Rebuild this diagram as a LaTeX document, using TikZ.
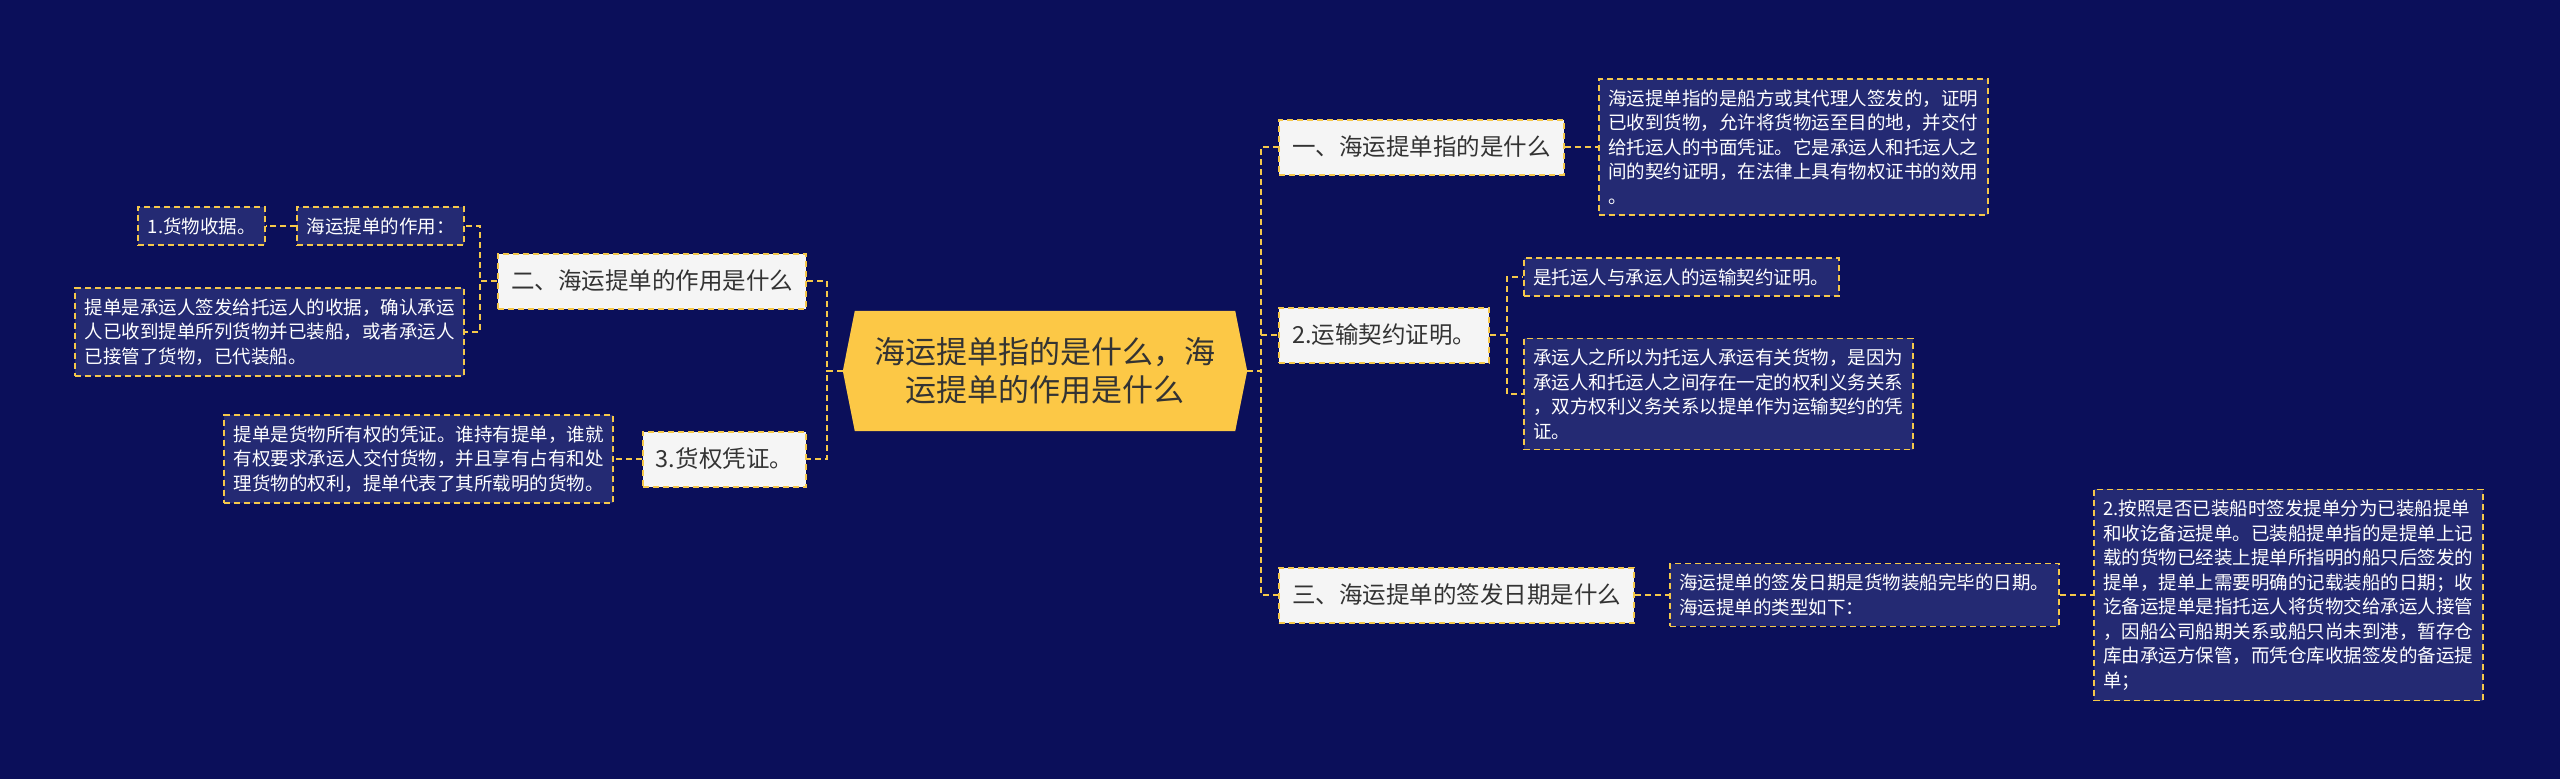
\documentclass[tikz,border=0pt]{standalone}
\usepackage{fontspec}
\setmainfont{Noto Sans CJK SC}
\definecolor{navybg}{HTML}{0B0F5A}
\definecolor{notefill}{HTML}{242A73}
\definecolor{gold}{HTML}{F5C84A}
\definecolor{hubfill}{HTML}{FCC846}
\definecolor{topicfill}{HTML}{F5F5F5}
\definecolor{inkdark}{HTML}{333333}
\pgfdeclarelayer{bg}
\pgfsetlayers{bg,main}
\tikzset{
  link/.style={draw=gold,line width=2pt,dash pattern=on 6pt off 4pt},
  topic/.style={draw=gold,fill=topicfill,line width=2pt,dash pattern=on 6pt off 4pt,
    text=inkdark,font=\fontsize{23.5}{28}\selectfont,minimum height=55pt,inner xsep=13pt,inner ysep=0pt},
  note/.style={draw=gold,fill=notefill,line width=1.6pt,dash pattern=on 6pt off 4pt,
    text=white,font=\fontsize{18.5}{24.5}\selectfont,align=left,inner xsep=9.5pt,inner ysep=10.5pt}
}
\begin{document}
\begin{tikzpicture}[x=1pt,y=-1pt]
  \useasboundingbox (0,0) rectangle (2560,779);
  % centre
  \node[text=inkdark,font=\fontsize{31}{38}\selectfont,align=center,minimum width=380pt,minimum height=120pt,inner sep=0pt]
    (hub) at (1045,371) {海运提单指的是什么，海\\运提单的作用是什么};
  \coordinate (hubR) at ([xshift=12pt]hub.east);
  \coordinate (hubL) at ([xshift=-12pt]hub.west);
  % right branches
  \node[topic,anchor=west] (t1) at (1278,147) {一、海运提单指的是什么};
  \node[topic,anchor=west] (t2) at (1278,335) {2.运输契约证明。};
  \node[topic,anchor=west] (t3) at (1278,595) {三、海运提单的签发日期是什么};
  \node[note,anchor=west] (n1) at (1598,147) {海运提单指的是船方或其代理人签发的，证明\\已收到货物，允许将货物运至目的地，并交付\\给托运人的书面凭证。它是承运人和托运人之\\间的契约证明，在法律上具有物权证书的效用\\。};
  \node[note,anchor=west] (n2a) at (1523,277) {是托运人与承运人的运输契约证明。};
  \node[note,anchor=west] (n2b) at (1523,394) {承运人之所以为托运人承运有关货物，是因为\\承运人和托运人之间存在一定的权利义务关系\\，双方权利义务关系以提单作为运输契约的凭\\证。};
  \node[note,anchor=west] (n3a) at (1669,595) {海运提单的签发日期是货物装船完毕的日期。\\海运提单的类型如下：};
  \node[note,anchor=west] (n3b) at (2093,595) {2.按照是否已装船时签发提单分为已装船提单\\和收讫备运提单。已装船提单指的是提单上记\\载的货物已经装上提单所指明的船只后签发的\\提单，提单上需要明确的记载装船的日期；收\\讫备运提单是指托运人将货物交给承运人接管\\，因船公司船期关系或船只尚未到港，暂存仓\\库由承运方保管，而凭仓库收据签发的备运提\\单；};
  % left branches
  \node[topic,anchor=east] (t4) at (807,281) {二、海运提单的作用是什么};
  \node[topic,anchor=east] (t5) at (807,459) {3.货权凭证。};
  \node[note,anchor=east] (n4a) at (465,226) {海运提单的作用：};
  \node[note,anchor=east] (n4c) at (266,226) {1.货物收据。};
  \node[note,anchor=east] (n4b) at (465,332) {提单是承运人签发给托运人的收据，确认承运\\人已收到提单所列货物并已装船，或者承运人\\已接管了货物，已代装船。};
  \node[note,anchor=east] (n5a) at (614,459) {提单是货物所有权的凭证。谁持有提单，谁就\\有权要求承运人交付货物，并且享有占有和处\\理货物的权利，提单代表了其所载明的货物。};
  % connectors
  \draw[link] (hubR) -- ++(14,0) |- (t1.west);
  \draw[link] (hubR) -- ++(14,0) |- (t2.west);
  \draw[link] (hubR) -- ++(14,0) |- (t3.west);
  \draw[link] (hubL) -- ++(-16,0) |- (t4.east);
  \draw[link] (hubL) -- ++(-16,0) |- (t5.east);
  \draw[link] (t1.east) -- (n1.west);
  \draw[link] (t2.east) -- ++(17,0) |- (n2a.west);
  \draw[link] (t2.east) -- ++(17,0) |- (n2b.west);
  \draw[link] (t3.east) -- (n3a.west);
  \draw[link] (n3a.east) -- (n3b.west);
  \draw[link] (t4.west) -- ++(-17,0) |- (n4a.east);
  \draw[link] (t4.west) -- ++(-17,0) |- (n4b.east);
  \draw[link] (n4a.west) -- (n4c.east);
  \draw[link] (t5.west) -- (n5a.east);
  \begin{pgfonlayer}{bg}
    \fill[navybg] (0,0) rectangle (2560,779);
    \fill[hubfill] (hub.north west) -- (hub.north east) -- (hubR) -- (hub.south east)
      -- (hub.south west) -- (hubL) -- cycle;
  \end{pgfonlayer}
\end{tikzpicture}
\end{document}
